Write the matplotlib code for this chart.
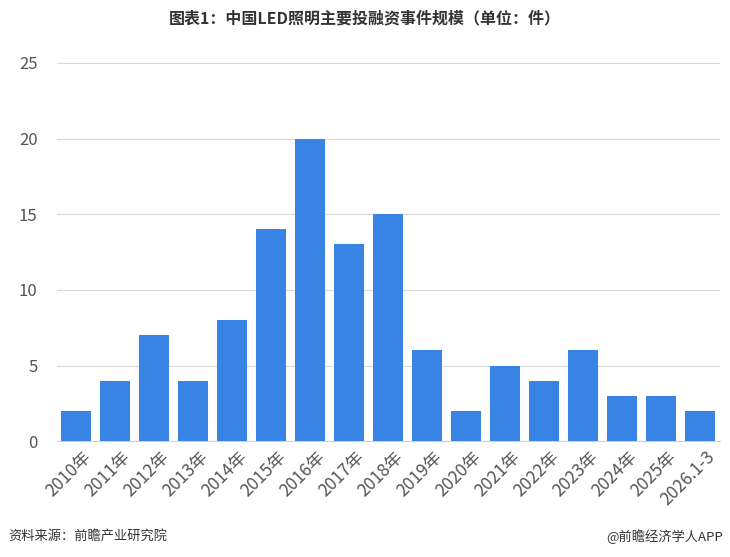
import matplotlib
matplotlib.use("Agg")
import matplotlib.pyplot as plt

plt.rcParams['font.family'] = ['Noto Sans CJK SC', 'DejaVu Sans']

# data
years = ['2010年', '2011年', '2012年', '2013年', '2014年', '2015年', '2016年', '2017年',
         '2018年', '2019年', '2020年', '2021年', '2022年', '2023年', '2024年', '2025年', '2026.1-3']
counts = [2, 4, 7, 4, 8, 14, 20, 13, 15, 6, 2, 5, 4, 6, 3, 3, 2]
yticks = [0, 5, 10, 15, 20, 25]

fig = plt.figure(figsize=(7.3, 5.57), dpi=100)
ax = fig.add_axes([0.078, 0.208, 0.908, 0.679])

x = range(len(years))
ax.bar(x, counts, width=0.77, color='#3884E4', zorder=3)

ax.set_ylim(0, 25)
ax.set_yticks(yticks)
ax.set_xlim(-0.5, len(years) - 0.5)
ax.grid(axis='y', color='#d9d9d9', linewidth=0.8, zorder=0)
ax.set_xticks([i + 0.15 for i in x])
ax.set_xticklabels(years, rotation=45, ha='right', va='top', rotation_mode='anchor',
                   fontsize=12.5, color='#555555')
ax.tick_params(axis='y', labelsize=12, colors='#555555', length=0, pad=14)
ax.tick_params(axis='x', length=0, pad=5)
for s in ['top', 'right', 'left']:
    ax.spines[s].set_visible(False)
ax.spines['bottom'].set_color('#d0d0d0')

fig.text(0.5, 0.967, '图表1：中国LED照明主要投融资事件规模（单位：件）', ha='center', va='center',
         fontsize=11.5, fontweight='bold', color='#333333')
fig.text(0.012, 0.037, '资料来源：前瞻产业研究院', ha='left', va='center', fontsize=9.5, color='#333333')
fig.text(0.99, 0.037, '@前瞻经济学人APP', ha='right', va='center', fontsize=9.5, color='#333333')

fig.savefig('out.png', dpi=100)
